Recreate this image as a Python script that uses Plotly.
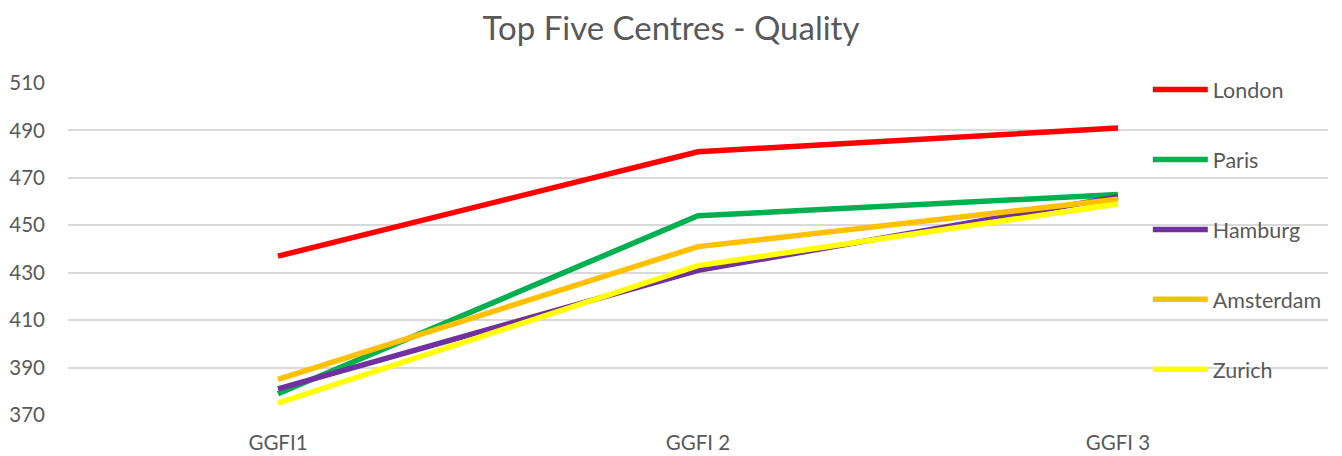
import plotly.graph_objects as go

categories = ["GGFI1", "GGFI 2", "GGFI 3"]
london = [437, 481, 491]
paris = [379, 454, 463]
hamburg = [381, 431, 462]
amsterdam = [385, 441, 461]
zurich = [375, 433, 459]

series = [
    ("London", london, "#FF0000"),
    ("Paris", paris, "#00B050"),
    ("Hamburg", hamburg, "#7030A0"),
    ("Amsterdam", amsterdam, "#FFC000"),
    ("Zurich", zurich, "#FFFF00"),
]

FONT = "Lato, 'Open Sans', sans-serif"
GREY = "#595959"

fig = go.Figure()
for name, vals, col in series:
    fig.add_trace(go.Scatter(
        x=categories, y=vals, name=name, mode="lines",
        line=dict(color=col, width=5.5),
        legendgroup=name,
    ))

fig.update_layout(
    width=1342, height=456,
    margin=dict(l=68, r=14, t=83, b=41, autoexpand=False),
    paper_bgcolor="white", plot_bgcolor="white",
    title=dict(text="Top Five Centres - Quality", x=0.5, xanchor="center",
               xref="container", yref="container",
               y=1 - 28 / 456, yanchor="middle",
               font=dict(family=FONT, size=33, color=GREY)),
    font=dict(family=FONT, color=GREY),
    showlegend=True,
    legend=dict(x=0.857, xanchor="left", yref="container",
                y=1 - 69 / 456, yanchor="top",
                bgcolor="rgba(0,0,0,0)", tracegroupgap=39,
                font=dict(family=FONT, size=21.5, color=GREY),
                itemwidth=55, maxheight=1),
    xaxis=dict(type="category", range=[-0.5, 2.5], showgrid=False,
               showline=False, ticks="", zeroline=False, automargin=False,
               ticklabelstandoff=13,
               tickfont=dict(family=FONT, size=20.5, color=GREY)),
    yaxis=dict(range=[370, 510], dtick=20, tick0=370, showgrid=True,
               gridcolor="#D9D9D9", gridwidth=1.5, zeroline=False,
               showline=False, ticks="", ticklabelstandoff=22, automargin=False,
               tickfont=dict(family=FONT, size=20.5, color=GREY)),
)

fig.write_html(
    "out.html",
    config={"displayModeBar": False},
    post_script="document.body.style.margin='0';document.body.style.padding='0';",
)
